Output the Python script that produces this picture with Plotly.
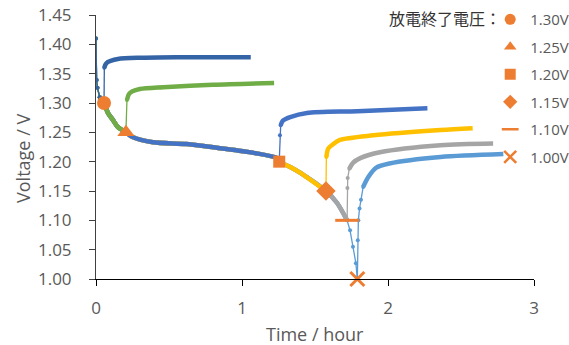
import plotly.graph_objects as go

# ---------------- data ----------------
# shared discharge curve (hours, volts)
discharge_time = [0.0, 0.004, 0.010, 0.025, 0.055, 0.082, 0.116, 0.150, 0.205, 0.25,
                  0.39, 0.62, 0.85, 1.08, 1.24, 1.255, 1.33, 1.40, 1.575, 1.65,
                  1.72, 1.74, 1.76, 1.78, 1.79]
discharge_volt = [1.410, 1.339, 1.326, 1.310, 1.300, 1.283, 1.271, 1.259, 1.250, 1.242,
                  1.233, 1.230, 1.223, 1.215, 1.206, 1.200, 1.191, 1.181, 1.150, 1.130,
                  1.100, 1.083, 1.055, 1.027, 1.000]

cutoff_labels = ["1.30V", "1.25V", "1.20V", "1.15V", "1.10V", "1.00V"]
cutoff_time = [0.055, 0.205, 1.255, 1.575, 1.72, 1.79]
cutoff_volt = [1.30, 1.25, 1.20, 1.15, 1.10, 1.00]
legend_title = "放電終了電圧："

# recovery (rest) curves after each cutoff
rest_time_130 = [0.057, 0.066, 0.082, 0.10, 0.15, 0.29, 0.55, 1.06]
rest_volt_130 = [1.360, 1.366, 1.370, 1.372, 1.375, 1.377, 1.378, 1.378]
rest_time_125 = [0.212, 0.225, 0.25, 0.30, 0.46, 0.80, 1.22]
rest_volt_125 = [1.305, 1.315, 1.320, 1.324, 1.327, 1.331, 1.334]
rest_time_120 = [1.26, 1.265, 1.28, 1.33, 1.445, 1.79, 2.27]
rest_volt_120 = [1.245, 1.262, 1.270, 1.276, 1.283, 1.286, 1.291]
rest_time_115 = [1.578, 1.59, 1.62, 1.67, 1.90, 2.36, 2.58]
rest_volt_115 = [1.208, 1.222, 1.229, 1.237, 1.245, 1.254, 1.257]
rest_time_110 = [1.722, 1.724, 1.735, 1.76, 1.81, 1.945, 2.36, 2.72]
rest_volt_110 = [1.155, 1.172, 1.188, 1.198, 1.206, 1.216, 1.228, 1.231]
rest_time_100 = [1.793, 1.797, 1.805, 1.815, 1.83, 1.865, 1.92, 2.01, 2.36, 2.79]
rest_volt_100 = [1.066, 1.100, 1.120, 1.135, 1.157, 1.174, 1.190, 1.197, 1.208, 1.213]

rest_time = [rest_time_130, rest_time_125, rest_time_120, rest_time_115, rest_time_110, rest_time_100]
rest_volt = [rest_volt_130, rest_volt_125, rest_volt_120, rest_volt_115, rest_volt_110, rest_volt_100]
# number of sparse (steep) points at the start of each rest curve
jump_points = [1, 1, 2, 1, 3, 5]

x_ticks = [0, 1, 2, 3]
y_ticks = [1.00, 1.05, 1.10, 1.15, 1.20, 1.25, 1.30, 1.35, 1.40, 1.45]

# ---------------- styles ----------------
colors = ["#3464A6", "#70AD47", "#4472C4", "#FFC000", "#A5A5A5", "#5B9BD5"]
symbols = ["circle", "triangle-up", "square", "diamond", "line-ew", "x-thin"]
sizes = [14, 15, 12, 15, 17, 14]
ORANGE = "#ED7D31"
THICK = 4.5
THIN = 1.3
DOT = 4

fig = go.Figure()

def add(x, y, color, thick):
    if len(x) < 2:
        return
    if thick:
        fig.add_trace(go.Scatter(x=x, y=y, mode="lines", showlegend=False, hoverinfo="skip",
                                 line=dict(color=color, width=THICK, shape="spline", smoothing=0.8)))
    else:
        fig.add_trace(go.Scatter(x=x, y=y, mode="lines+markers", showlegend=False, hoverinfo="skip",
                                 line=dict(color=color, width=THIN),
                                 marker=dict(color=color, size=DOT)))

HEAD = 3   # steep start of discharge
TAIL = 20  # steep end of discharge (after 1.10 V)

for i in reversed(range(6)):
    c = colors[i]
    n_cut = min(range(len(discharge_time)), key=lambda k: abs(discharge_time[k] - cutoff_time[i]))
    dt = discharge_time[:n_cut + 1]
    dv = discharge_volt[:n_cut + 1]
    add(dt[:HEAD + 1], dv[:HEAD + 1], c, False)
    add(dt[HEAD:min(n_cut, TAIL) + 1], dv[HEAD:min(n_cut, TAIL) + 1], c, True)
    if n_cut > TAIL:
        add(dt[TAIL:], dv[TAIL:], c, False)
    k = jump_points[i]
    add([cutoff_time[i]] + rest_time[i][:k], [cutoff_volt[i]] + rest_volt[i][:k], c, False)
    add(rest_time[i][k - 1:], rest_volt[i][k - 1:], c, True)

# cutoff markers
for i in range(6):
    line_sym = symbols[i] in ("line-ew", "x-thin")
    fig.add_trace(go.Scatter(
        x=[cutoff_time[i]], y=[cutoff_volt[i]], mode="markers", showlegend=False, cliponaxis=False,
        marker=dict(symbol=symbols[i], size=sizes[i], color=ORANGE,
                    line=dict(color=ORANGE, width=3 if line_sym else 0))))

# legend entries
for i in range(6):
    line_sym = symbols[i] in ("line-ew", "x-thin")
    fig.add_trace(go.Scatter(
        x=[None], y=[None], mode="markers", name=cutoff_labels[i], legendgroup=cutoff_labels[i],
        marker=dict(symbol=symbols[i], size=11 if not line_sym else 12, color=ORANGE,
                    line=dict(color=ORANGE, width=2.5 if line_sym else 0))))

GRAY = "#595959"
fig.update_layout(
    width=569, height=345,
    margin=dict(l=96, r=35, t=15, b=66, autoexpand=False),
    paper_bgcolor="white", plot_bgcolor="white",
    font=dict(family="Open Sans", size=17, color=GRAY),
    legend=dict(
        x=0.9, xanchor="left", y=1.045, yanchor="top", maxheight=330,
        bgcolor="rgba(0,0,0,0)", tracegroupgap=5,
        font=dict(family="Open Sans", size=15, color=GRAY),
    ),
    xaxis=dict(range=[0, 3], tickvals=x_ticks, ticktext=[str(v) for v in x_ticks],
               showgrid=False, zeroline=False, showline=True, linecolor="#000000", linewidth=1,
               ticks="outside", ticklen=6, tickcolor="#000000", ticklabelstandoff=8,
               tickfont=dict(size=17, color=GRAY)),
    yaxis=dict(range=[1.0, 1.45], tickvals=y_ticks, ticktext=[f"{v:.2f}" for v in y_ticks],
               showgrid=False, zeroline=False, showline=True, linecolor="#404040", linewidth=1,
               ticks="outside", ticklen=6, tickcolor="#404040", ticklabelstandoff=14,
               tickfont=dict(size=17, color=GRAY)),
    annotations=[
        dict(text="Time / hour", xref="paper", yref="paper", x=0.5, y=-0.208,
             xanchor="center", yanchor="middle", showarrow=False,
             font=dict(size=18, color=GRAY)),
        dict(text="Voltage / V", xref="paper", yref="paper", x=-0.167, y=0.458,
             xanchor="center", yanchor="middle", showarrow=False, textangle=-90,
             font=dict(size=18, color=GRAY)),
        dict(text=legend_title, xref="paper", yref="paper", x=(503 - 96) / 438, y=(279 - 18) / 264,
             xanchor="right", yanchor="middle", showarrow=False,
             font=dict(family="Noto Sans CJK JP", size=16, color="#333333")),
    ],
)

fig.write_html("out.html")
